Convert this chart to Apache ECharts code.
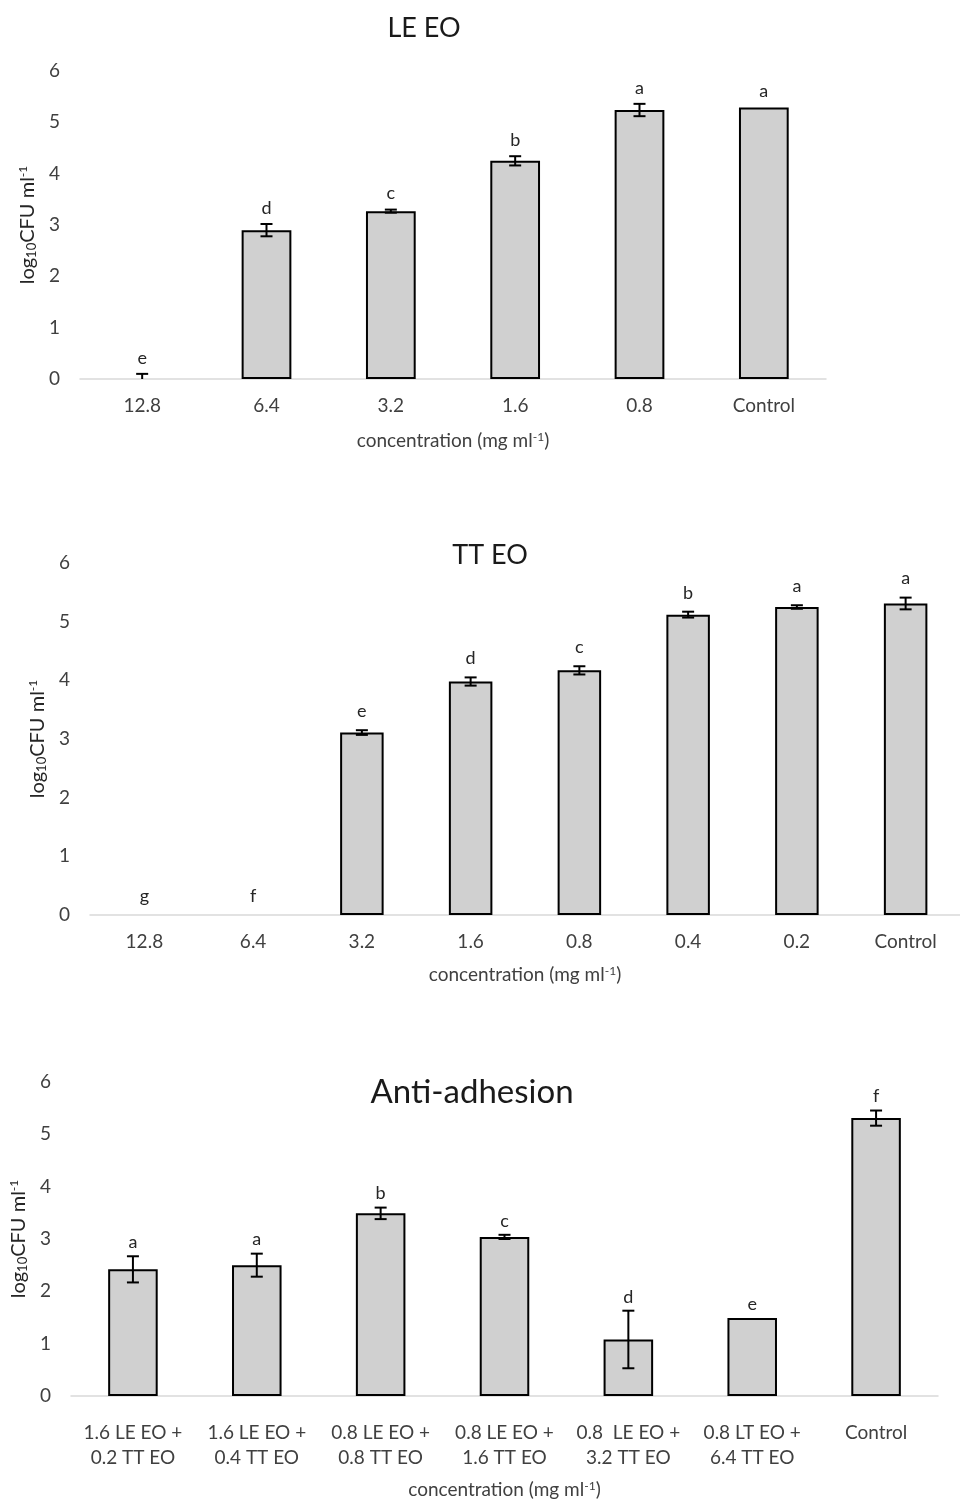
<!DOCTYPE html>
<html><head><meta charset="utf-8">
<script src="https://cdn.jsdelivr.net/npm/echarts@6/dist/echarts.min.js"></script>
<style>html,body{margin:0;padding:0;background:#fff}#c{width:960px;height:1500px}</style>
</head><body><div id="c"></div>
<script>
// ---- Data ----
const yTicks = [0, 1, 2, 3, 4, 5, 6];

const leCats = ['12.8', '6.4', '3.2', '1.6', '0.8', 'Control'];
const leMeans = [0, 2.90, 3.27, 4.25, 5.24, 5.29];
const leErr = [0.1, 0.12, 0.03, 0.09, 0.12, 0];
const leLetters = ['e', 'd', 'c', 'b', 'a', 'a'];

const ttCats = ['12.8', '6.4', '3.2', '1.6', '0.8', '0.4', '0.2', 'Control'];
const ttMeans = [0, 0, 3.11, 3.98, 4.17, 5.12, 5.25, 5.31];
const ttErr = [0, 0, 0.04, 0.07, 0.07, 0.05, 0.03, 0.10];
const ttLetters = ['g', 'f', 'e', 'd', 'c', 'b', 'a', 'a'];

const adCats = ['1.6 LE EO +\n0.2 TT EO', '1.6 LE EO +\n0.4 TT EO', '0.8 LE EO +\n0.8 TT EO',
  '0.8 LE EO +\n1.6 TT EO', '0.8  LE EO +\n3.2 TT EO', '0.8 LT EO +\n6.4 TT EO', 'Control'];
const adMeans = [2.42, 2.50, 3.49, 3.04, 1.08, 1.49, 5.31];
const adErr = [0.25, 0.22, 0.11, 0.04, 0.55, 0, 0.145];
const adLetters = ['a', 'a', 'b', 'c', 'd', 'e', 'f'];

const titles = ['LE EO', 'TT EO', 'Anti-adhesion'];

// ---- Styling ----
const FONT = 'Lato, "Open Sans", sans-serif';
const TXT = '#404040';
const panels = [
  { cats: leCats, means: leMeans, err: leErr, letters: leLetters,
    grid: { left: 80, top: 71, width: 746, height: 308 }, title: { x: 419, y: 10, size: 27 },
    yNameGap: 37, xNameGap: 52, letterOff: 16, labelLH: 20, labelMargin: 17 },
  { cats: ttCats, means: ttMeans, err: ttErr, letters: ttLetters,
    grid: { left: 90, top: 563, width: 878, height: 352 }, title: { x: 485, y: 537, size: 27 },
    yNameGap: 38, xNameGap: 50, letterOff: 19, labelLH: 20, labelMargin: 17 },
  { cats: adCats, means: adMeans, err: adErr, letters: adLetters,
    grid: { left: 71, top: 1082, width: 867, height: 323 }, title: { x: 467, y: 1071, size: 33 },
    yNameGap: 37, xNameGap: 84, letterOff: 14, labelLH: 25, labelMargin: 24 }
];

const option = {
  animation: false,
  backgroundColor: '#fff',
  textStyle: { fontFamily: FONT },
  title: [], grid: [], xAxis: [], yAxis: [], series: []
};

panels.forEach((p, k) => {
  option.title.push({
    text: titles[k], left: p.title.x, top: p.title.y, textAlign: 'center',
    textStyle: { fontFamily: FONT, fontSize: p.title.size, fontWeight: 'normal', color: '#1a1a1a' }
  });
  option.grid.push(p.grid);
  option.xAxis.push({
    type: 'category', gridIndex: k, data: p.cats,
    axisLine: { lineStyle: { color: '#d9d9d9', width: 1.5 } },
    axisTick: { show: false },
    axisLabel: { color: TXT, fontSize: 19, fontFamily: FONT, margin: p.labelMargin, lineHeight: p.labelLH, interval: 0 },
    name: 'concentration (mg ml{sup|-1})', nameLocation: 'middle', nameGap: p.xNameGap,
    nameTextStyle: { color: TXT, fontSize: 19, fontFamily: FONT,
      rich: { sup: { fontSize: 12, verticalAlign: 'top', color: TXT, fontFamily: FONT, padding: [0, 0, 6, 0] } } }
  });
  option.yAxis.push({
    type: 'value', gridIndex: k, min: 0, max: 6, interval: 1,
    axisLine: { show: false }, axisTick: { show: false }, splitLine: { show: false },
    axisLabel: { color: TXT, fontSize: 19, fontFamily: FONT, margin: 20 },
    name: 'log{sub|10}CFU ml{sup|-1}', nameLocation: 'middle', nameGap: p.yNameGap,
    nameTextStyle: { color: '#262626', fontSize: 20, fontFamily: FONT,
      rich: {
        sub: { fontSize: 13, color: '#262626', fontFamily: FONT, padding: [8, 0, 0, 0] },
        sup: { fontSize: 12, color: '#262626', fontFamily: FONT, padding: [0, 0, 8, 0] }
      } }
  });
  option.series.push({
    type: 'bar', xAxisIndex: k, yAxisIndex: k, barWidth: '40%',
    data: p.means.map(v => v === 0 ? { value: v, itemStyle: { borderWidth: 0 } } : v),
    itemStyle: { color: '#d0d0d0', borderColor: '#000', borderWidth: 2 }
  });
  option.series.push({
    type: 'custom', xAxisIndex: k, yAxisIndex: k, z: 5,
    data: p.means.map((v, i) => [i, v, p.err[i]]),
    encode: { x: 0, y: 1 },
    renderItem: function (params, api) {
      const i = api.value(0), v = api.value(1), e = api.value(2);
      const children = [];
      const topPt = api.coord([i, v + e]);
      if (e > 0) {
        const lo = api.coord([i, Math.max(0, v - e)]);
        const hw = 6;
        const st = { stroke: '#000', lineWidth: 2 };
        children.push({ type: 'line', shape: { x1: topPt[0], y1: topPt[1], x2: lo[0], y2: lo[1] }, style: st });
        children.push({ type: 'line', shape: { x1: topPt[0] - hw, y1: topPt[1], x2: topPt[0] + hw, y2: topPt[1] }, style: st });
        if (v - e > 0) children.push({ type: 'line', shape: { x1: lo[0] - hw, y1: lo[1], x2: lo[0] + hw, y2: lo[1] }, style: st });
      }
      children.push({
        type: 'text',
        style: { text: p.letters[params.dataIndex], x: topPt[0], y: topPt[1] - p.letterOff,
          align: 'center', verticalAlign: 'middle', fill: '#262626', font: '18px ' + FONT }
      });
      return { type: 'group', children: children };
    }
  });
});

const chart = echarts.init(document.getElementById('c'), null, { renderer: 'canvas' });
chart.setOption(option);
</script>
</body></html>
